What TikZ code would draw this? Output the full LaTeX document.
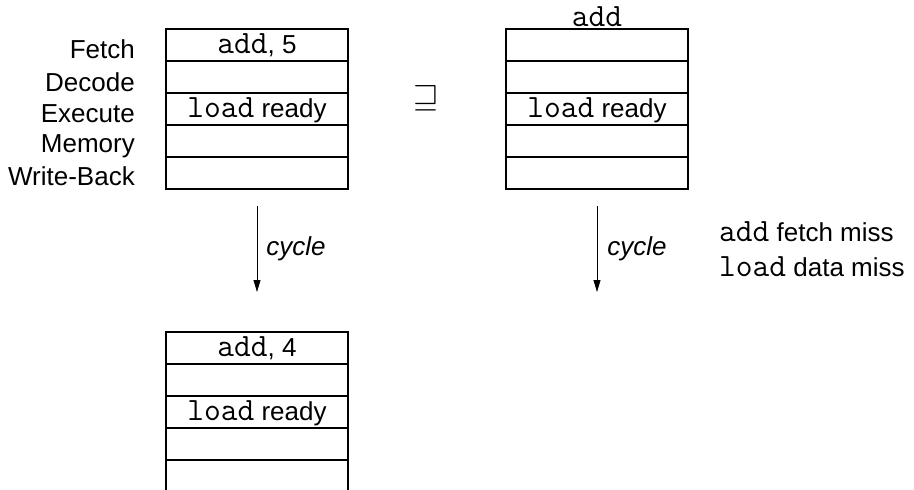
\documentclass[tikz,border=0pt]{standalone}
\usepackage{fontspec}
\setmainfont{Liberation Sans}
\setmonofont{Latin Modern Mono}[Scale=1.25]
\usetikzlibrary{arrows.meta}
\begin{document}
\begin{tikzpicture}[x=1pt,y=-1pt,
  font=\fontsize{26}{31}\selectfont,
  cell/.style={draw, line width=1.1pt, minimum width=182pt, minimum height=32pt,
    inner sep=0pt, outer sep=0pt, text height=19pt, text depth=3pt},
  stage/.style={anchor=base east, inner sep=0pt},
  arr/.style={-{Triangle[length=12pt,width=7pt]}, line width=0.8pt},
  note/.style={anchor=base west, inner sep=0pt}]

\useasboundingbox (0,0) rectangle (914,490);
\clip (0,0) rectangle (914,490);

% pipeline stage names
\node[stage] (sF) at (135,58)  {Fetch};
\node[stage] (sD) at (135,91)  {Decode};
\node[stage] (sE) at (135,122) {Execute};
\node[stage] (sM) at (135,152) {Memory};
\node[stage] (sW) at (135,185) {Write-Back};

% current pipeline state
\node[cell, anchor=north west] (a1) at (166,29) {\texttt{add}, 5};
\node[cell, anchor=north] (a2) at (a1.south) {};
\node[cell, anchor=north] (a3) at (a2.south) {\texttt{load} ready};
\node[cell, anchor=north] (a4) at (a3.south) {};
\node[cell, anchor=north] (a5) at (a4.south) {};

% abstract state
\node[cell, anchor=north west] (b1) at (506,29) {};
\node[cell, anchor=north] (b2) at (b1.south) {};
\node[cell, anchor=north] (b3) at (b2.south) {\texttt{load} ready};
\node[cell, anchor=north] (b4) at (b3.south) {};
\node[cell, anchor=north] (b5) at (b4.south) {};
\node[anchor=base, inner sep=0pt] (btop) at ([yshift=3pt]b1.north) {\texttt{add}};

% refinement relation
\node[inner sep=0pt] (rel) at (426,98) {\scalebox{3.3}{\normalsize$\sqsupseteq$}};

% next pipeline state
\node[cell, anchor=north west] (c1) at (166,332) {\texttt{add}, 4};
\node[cell, anchor=north] (c2) at (c1.south) {};
\node[cell, anchor=north] (c3) at (c2.south) {\texttt{load} ready};
\node[cell, anchor=north] (c4) at (c3.south) {};
\node[cell, anchor=north] (c5) at (c4.south) {};

% cycle steps
\draw[arr] ([yshift=-17pt]a5.south) -- ([yshift=40pt]c1.north)
  node[midway, anchor=west, inner sep=0pt, xshift=9pt] (cyc1) {\itshape cycle};

\coordinate (ra) at ([yshift=-17pt]b5.south);
\coordinate (rb) at ([yshift=-103pt]b5.south);
\draw[arr] (ra) -- (rb)
  node[midway, anchor=west, inner sep=0pt, xshift=10pt] (cyc2) {\itshape cycle};

% cache events
\node[note] (m1) at (719,241) {\texttt{add} fetch miss};
\node[note] (m2) at (719,276) {\texttt{load} data miss};
\end{tikzpicture}
\end{document}
